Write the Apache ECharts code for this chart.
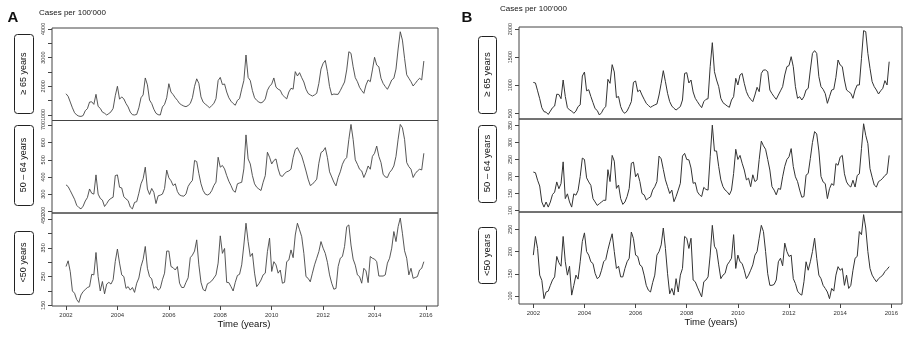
<!DOCTYPE html>
<html><head><meta charset="utf-8">
<script src="https://cdn.jsdelivr.net/npm/echarts@6/dist/echarts.min.js"></script>
<style>html,body{margin:0;padding:0;background:#fff}#c{width:909px;height:338px}</style>
</head><body><div id="c"></div>
<script>
// ---------- data ----------
const startYear = 2002;          // first month = Jan 2002, monthly data
const yearTicks = [2002, 2004, 2006, 2008, 2010, 2012, 2014, 2016];
const rowLabels = ['\u2265 65 years', '50 \u2013 64 years', '<50 years'];

// Panel A (cases per 100'000)
const a65 = [
 1740,1650,1450,1250,1080,1000,960,950,980,1150,1220,1450,
 1460,1370,1720,1300,1230,1100,1060,1000,1050,1110,1230,1670,
 2000,1550,1630,1560,1400,1280,1100,1010,1000,1020,1250,1600,
 1700,2290,2050,1520,1400,1200,1060,1010,1000,1280,1370,1600,
 2090,1800,1710,1600,1510,1400,1350,1310,1290,1330,1400,1600,
 2000,2260,2100,1630,1450,1380,1320,1250,1330,1400,1570,2200,
 2310,2060,2080,1800,1600,1480,1400,1340,1510,1570,1900,2200,
 3090,2310,2200,1850,1600,1510,1450,1420,1460,1560,1860,2000,
 2080,2290,1970,1900,1860,1700,1630,1560,1800,1930,1900,2510,
 2360,2475,2300,2150,1900,1750,1700,1660,1700,1755,2100,2600,
 2800,2900,2510,1990,1700,1730,1720,1720,1850,2000,2150,2570,
 3205,3150,2680,2300,2160,1965,1850,1755,2045,2220,2160,2570,
 3010,2740,2680,2280,2100,1990,1895,2045,2220,2280,2600,3300,
 3900,3610,2975,2400,2280,2160,2010,2100,2200,2280,2220,2880
];
const a50 = [
 354,344,320,295,270,235,222,214,230,260,280,330,
 305,300,412,300,275,265,228,245,265,275,282,408,
 412,340,336,285,272,262,225,214,252,256,305,360,
 390,457,330,298,333,310,245,290,294,300,333,440,
 395,378,350,360,315,295,290,288,301,345,365,380,
 496,490,420,360,321,300,295,301,320,350,370,515,
 457,467,447,408,375,350,321,311,360,365,369,447,
 645,505,476,408,360,340,330,321,369,408,544,515,
 476,496,505,447,408,403,420,430,435,445,513,560,
 571,546,522,480,435,387,350,358,372,387,480,542,
 551,571,513,430,400,370,348,397,430,474,500,513,
 619,706,619,500,474,445,435,397,426,464,445,520,
 538,580,520,484,416,400,397,426,441,464,520,620,
 706,687,619,484,460,445,397,420,435,445,441,538
];
const a49 = [
 285,305,267,200,192,170,160,186,198,205,212,215,
 258,256,334,250,200,233,190,224,230,224,239,303,
 346,297,256,250,209,215,203,212,195,227,245,285,
 310,355,279,250,242,209,215,203,209,239,262,339,
 339,285,281,273,285,227,212,212,230,246,316,325,
 339,378,291,230,205,200,225,229,235,245,256,297,
 392,331,348,230,229,215,200,230,254,258,291,360,
 436,372,320,331,262,215,225,238,256,262,337,384,
 268,302,291,262,273,227,230,302,308,343,316,395,
 436,413,389,331,250,244,232,262,291,314,337,372,
 349,331,300,256,227,206,209,285,314,320,355,424,
 430,360,311,290,256,250,227,279,270,229,320,314,
 311,302,252,252,252,256,297,314,349,407,372,424,
 454,401,340,314,256,279,244,247,250,273,279,302
];

// Panel B (cases per 100'000)
const b65 = [
 1050,1040,900,760,600,530,520,480,540,600,630,840,
 835,760,1093,800,600,560,540,500,540,620,650,1164,
 1235,900,920,800,690,583,550,470,510,583,619,1105,
 1034,1366,1236,780,800,619,530,500,542,619,708,1052,
 1075,885,915,826,750,678,640,607,630,650,666,826,
 1034,1259,1063,856,708,630,589,559,590,620,737,1211,
 1223,1040,1093,880,767,708,650,601,708,749,760,1330,
 1757,1241,1093,974,767,690,660,630,607,737,796,1123,
 1004,1182,1211,1034,885,800,749,708,826,963,885,1211,
 1271,1271,1241,915,850,796,749,826,900,974,1182,1330,
 1350,1508,1330,974,767,796,737,796,915,945,1271,1567,
 1615,1567,1152,974,927,850,678,796,915,927,1140,1449,
 1360,1330,1093,915,885,856,767,915,1004,1004,1478,1971,
 1953,1567,1300,1063,974,915,844,900,945,1081,1004,1419
];
const b50 = [
 213,211,189,172,125,110,125,110,125,147,154,184,
 164,179,243,135,149,125,110,149,145,159,200,254,
 250,196,184,174,135,125,115,120,125,130,130,220,
 185,262,245,165,175,135,118,125,141,165,239,242,
 199,209,185,150,146,131,136,140,160,170,185,260,
 252,221,190,170,150,160,126,141,160,180,260,268,
 250,249,225,180,182,155,146,141,168,162,160,258,
 351,275,275,229,190,170,160,155,146,160,209,280,
 250,262,239,219,190,195,170,205,185,190,250,304,
 290,280,250,219,170,160,146,165,162,199,230,250,
 258,282,229,199,185,160,139,141,204,209,253,300,
 332,325,275,200,184,179,135,164,179,174,238,233,
 257,262,208,184,174,169,189,169,203,208,282,355,
 321,297,223,198,175,169,185,189,195,203,208,262
];
const b49 = [
 192,234,207,147,135,94,109,111,124,136,143,189,
 175,167,234,177,147,167,102,124,147,138,177,223,
 242,200,192,177,173,151,139,143,158,177,182,204,
 223,240,200,162,167,143,143,162,177,185,244,229,
 192,189,170,166,147,124,113,109,130,147,192,200,
 215,253,207,150,105,117,102,139,109,147,162,234,
 230,207,230,136,132,120,109,98,132,136,143,192,
 259,212,204,170,139,147,151,170,177,185,238,162,
 192,177,173,158,139,147,158,170,192,200,230,259,
 245,200,150,124,124,126,136,177,185,168,219,200,
 189,192,139,128,111,105,102,132,177,158,177,200,
 230,185,147,139,124,117,109,94,117,111,147,166,
 158,162,124,147,117,124,158,185,189,245,238,283,
 253,200,162,147,139,132,139,143,147,155,160,166
];

// y-axis ticks / labels per row
const ticksA = [[1000,1500,2000,2500,3000,3500,4000],[200,300,400,500,600,700],[150,200,250,300,350,400,450]];
const labelsA = [[1000,2000,3000,4000],[200,300,400,500,600,700],[150,250,350,450]];
const ticksB = [[500,1000,1500,2000],[100,150,200,250,300,350],[100,150,200,250]];
const labelsB = [[500,1000,1500,2000],[100,150,200,250,300,350],[100,150,200,250]];

// ---------- layout ----------
const panels = [
 {series:[a65,a50,a49], ticks:ticksA, labels:labelsA, left:52, width:386,
  tops:[28,120.5,213], heights:[92.5,92.5,93],
  ranges:[[808,4031],[190,729],[147.6,471.6]], x:[2001.456,2016.467], color:'#444', lw:0.9},
 {series:[b65,b50,b49], ticks:ticksB, labels:labelsB, left:519, width:383,
  tops:[27,119,212], heights:[92,93,92],
  ranges:[[399,2036],[95.6,369],[82,289]], x:[2001.44,2016.418], color:'#333', lw:1}
];
const plain = v => String(Math.round(v));

const grids=[], xAxes=[], yAxes=[], series=[];
panels.forEach((p)=>{
  for(let r=0;r<3;r++){
    const idx = grids.length;
    const isBottom = r===2;
    grids.push({left:p.left, top:p.tops[r], width:p.width, height:p.heights[r],
      show:true, borderColor:'#444', borderWidth:1, backgroundColor:'transparent'});
    xAxes.push({type:'value', gridIndex:idx, min:p.x[0], max:p.x[1],
      axisLine:{show:false}, splitLine:{show:false},
      axisTick:{show:isBottom, length:4, customValues:yearTicks, lineStyle:{color:'#444',width:1}},
      axisLabel:{show:isBottom, customValues:yearTicks, formatter:plain, fontSize:6, margin:6, color:'#333', fontFamily:'Liberation Sans'}});
    yAxes.push({type:'value', gridIndex:idx, min:p.ranges[r][0], max:p.ranges[r][1],
      axisLine:{show:false}, splitLine:{show:false},
      axisTick:{show:true, length:4, customValues:p.ticks[r], lineStyle:{color:'#444',width:1}},
      axisLabel:{customValues:p.labels[r], formatter:plain, rotate:90, fontSize:5.5, margin:6, color:'#333', fontFamily:'Liberation Sans'}});
    series.push({type:'line', xAxisIndex:idx, yAxisIndex:idx, showSymbol:false, silent:true,
      lineStyle:{color:p.color, width:p.lw},
      data:p.series[r].map((v,i)=>[startYear + i/12, v])});
  }
});

function vtext(x,y,t,size){
  return {type:'text', x:x, y:y, rotation:Math.PI/2, silent:true,
    style:{text:t, fontSize:size, fontFamily:'Liberation Sans', fill:'#111',
      align:'center', verticalAlign:'middle', textAlign:'center', textVerticalAlign:'middle'}};
}
function box(x,y,w,h){
  return {type:'rect', silent:true, shape:{x:x,y:y,width:w,height:h,r:3},
    style:{fill:'#fff', stroke:'#222', lineWidth:1}};
}
function htext(x,y,t,size,weight){
  return {type:'text', x:x, y:y, silent:true,
    style:{text:t, fontSize:size, fontWeight:weight||'normal', fontFamily:'Liberation Sans', fill:'#111',
      align:'center', verticalAlign:'middle', textAlign:'center', textVerticalAlign:'middle'}};
}
const boxesA = [[14,34,19,79],[14,125,19,80],[14,231,19,63]];
const boxesB = [[478,36,18,77],[478,125,18,77],[478,227,18,56]];
const graphics = [];
boxesA.forEach((b,i)=>{graphics.push(box(b[0]+0.5,b[1]+0.5,b[2],b[3])); graphics.push(vtext(b[0]+b[2]/2+0.5,b[1]+b[3]/2,rowLabels[i],9));});
boxesB.forEach((b,i)=>{graphics.push(box(b[0]+0.5,b[1]+0.5,b[2],b[3])); graphics.push(vtext(b[0]+b[2]/2+0.5,b[1]+b[3]/2,rowLabels[i],9.5));});
graphics.push(htext(13,18,'A',15,'bold'));
graphics.push(htext(467,18,'B',15,'bold'));
graphics.push({type:'text', x:39, y:12.5, silent:true, style:{text:"Cases per 100'000", fontSize:8, fontFamily:'Liberation Sans', fill:'#111', align:'left', verticalAlign:'middle', textAlign:'left', textVerticalAlign:'middle'}});
graphics.push({type:'text', x:500, y:8.5, silent:true, style:{text:"Cases per 100'000", fontSize:8, fontFamily:'Liberation Sans', fill:'#111', align:'left', verticalAlign:'middle', textAlign:'left', textVerticalAlign:'middle'}});
graphics.push(htext(244,324.5,'Time (years)',9.5));
graphics.push(htext(711,322.5,'Time (years)',9.5));

const chart = echarts.init(document.getElementById('c'), null, {renderer:'canvas'});
chart.setOption({animation:false, grid:grids, xAxis:xAxes, yAxis:yAxes, series:series, graphic:graphics});
</script></body></html>
